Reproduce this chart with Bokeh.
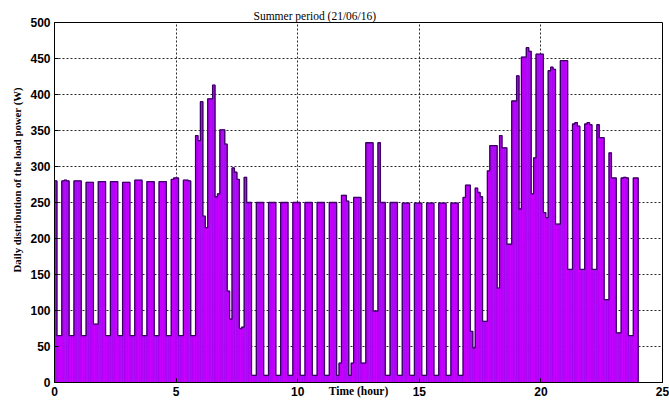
import numpy as np
from bokeh.plotting import figure
from bokeh.models import Range1d, Title, ColumnDataSource
from bokeh.embed import file_html
from bokeh.resources import INLINE

# Load power (W) sampled every 6 minutes over the day; one row per hour
power_h00 = [280, 65, 65, 280, 281, 280, 65, 65, 280, 280]
power_h01 = [280, 65, 65, 278, 278, 278, 81, 81, 279, 279]
power_h02 = [279, 65, 65, 279, 279, 279, 65, 65, 278, 278]
power_h03 = [278, 65, 65, 281, 281, 281, 65, 65, 279, 279]
power_h04 = [279, 65, 65, 279, 279, 279, 65, 65, 282, 284]
power_h05 = [284, 65, 65, 281, 281, 280, 65, 65, 343, 336]
power_h06 = [390, 231, 215, 394, 394, 413, 258, 262, 351, 351]
power_h07 = [331, 127, 88, 298, 292, 282, 75, 77, 285, 250]
power_h08 = [250, 10, 10, 250, 250, 250, 10, 10, 250, 250]
power_h09 = [250, 10, 10, 250, 250, 250, 10, 10, 250, 250]
power_h10 = [250, 10, 10, 250, 250, 250, 10, 10, 250, 250]
power_h11 = [250, 10, 10, 250, 250, 250, 10, 27, 260, 260]
power_h12 = [252, 10, 27, 257, 257, 257, 27, 27, 333, 333]
power_h13 = [333, 99, 99, 333, 250, 250, 10, 10, 250, 250]
power_h14 = [250, 10, 10, 249, 249, 249, 10, 10, 249, 249]
power_h15 = [249, 10, 10, 249, 249, 249, 10, 10, 249, 249]
power_h16 = [249, 10, 10, 249, 249, 249, 10, 10, 257, 274]
power_h17 = [274, 71, 48, 270, 264, 258, 85, 85, 294, 329]
power_h18 = [329, 329, 131, 343, 326, 326, 192, 192, 391, 391]
power_h19 = [426, 241, 452, 452, 465, 460, 262, 312, 456, 456]
power_h20 = [456, 236, 229, 433, 438, 435, 220, 220, 447, 447]
power_h21 = [447, 157, 157, 359, 361, 356, 157, 157, 359, 361]
power_h22 = [358, 157, 157, 358, 340, 340, 115, 115, 319, 284]
power_h23 = [284, 69, 69, 284, 285, 284, 65, 65, 284, 284]

step_hours = 0.1  # 6-minute sampling

x_ticks = [0, 5, 10, 15, 20, 25]
y_ticks = [0, 50, 100, 150, 200, 250, 300, 350, 400, 450, 500]

power = np.array(
    power_h00 + power_h01 + power_h02 + power_h03 + power_h04 + power_h05
    + power_h06 + power_h07 + power_h08 + power_h09 + power_h10 + power_h11
    + power_h12 + power_h13 + power_h14 + power_h15 + power_h16 + power_h17
    + power_h18 + power_h19 + power_h20 + power_h21 + power_h22 + power_h23,
    dtype=float,
)
t_start = np.arange(len(power)) * step_hours
t_end = t_start + step_hours

src = ColumnDataSource(dict(left=t_start, right=t_end, top=power,
                            bottom=np.zeros_like(power)))

p = figure(width=669, height=405, output_backend="svg", toolbar_location=None,
           x_range=Range1d(0, 25), y_range=Range1d(0, 500),
           min_border_left=54, min_border_right=7, min_border_top=22,
           min_border_bottom=23)

p.quad(left="left", right="right", top="top", bottom="bottom", source=src,
       fill_color="#C800FF", line_color="#9A00EE", line_width=0.7)

# dark outline along the load profile
sx = np.concatenate([[0.0], t_start, [24.0, 24.0]])
sy = np.concatenate([[0.0], power, [power[-1], 0.0]])
p.step(sx, sy, mode="after", line_color="#3A0064", line_width=1.3)

# axes and grid
for ax in (p.xaxis[0], p.yaxis[0]):
    ax.major_label_text_font = "Liberation Sans"
    ax.major_label_text_font_style = "bold"
    ax.major_label_text_font_size = "12px"
    ax.major_label_text_color = "black"
    ax.axis_line_color = "black"
    ax.major_tick_in = 4
    ax.major_tick_out = 0
    ax.minor_tick_line_color = None
    ax.major_tick_line_color = "black"

p.xaxis.ticker = x_ticks
p.yaxis.ticker = y_ticks
p.xaxis.major_label_standoff = 4
p.yaxis.major_label_standoff = 4

# x-axis label sits on the same row as the tick labels
p.xaxis.axis_label = "Time (hour)"
p.xaxis.axis_label_text_font = "Liberation Serif"
p.xaxis.axis_label_text_font_style = "bold"
p.xaxis.axis_label_text_font_size = "11.5px"
p.xaxis.axis_label_text_color = "black"
p.xaxis.axis_label_standoff = -14

# rotated y label, anchored from the bottom of the frame
ylab = Title(text="Daily distribution of the load power (W)", align="left",
             offset=110, standoff=9, text_font="Liberation Serif",
             text_font_style="bold", text_font_size="10.8px",
             text_color="black")
p.add_layout(ylab, "left")

p.title.text = "Summer period (21/06/16)"
p.title.align = "left"
p.title.offset = 199
p.title.standoff = 2
p.title.text_font = "Liberation Serif"
p.title.text_font_style = "normal"
p.title.text_font_size = "11.5px"
p.title.text_color = "black"

p.grid.grid_line_color = "black"
p.grid.grid_line_dash = "2 2"
p.grid.grid_line_alpha = 0.85
p.grid.grid_line_width = 1
p.xgrid.ticker = x_ticks
p.ygrid.ticker = y_ticks

p.outline_line_color = "black"
p.outline_line_width = 1
p.background_fill_color = "white"
p.border_fill_color = "white"

open("out.html", "w").write(file_html(p, INLINE))
